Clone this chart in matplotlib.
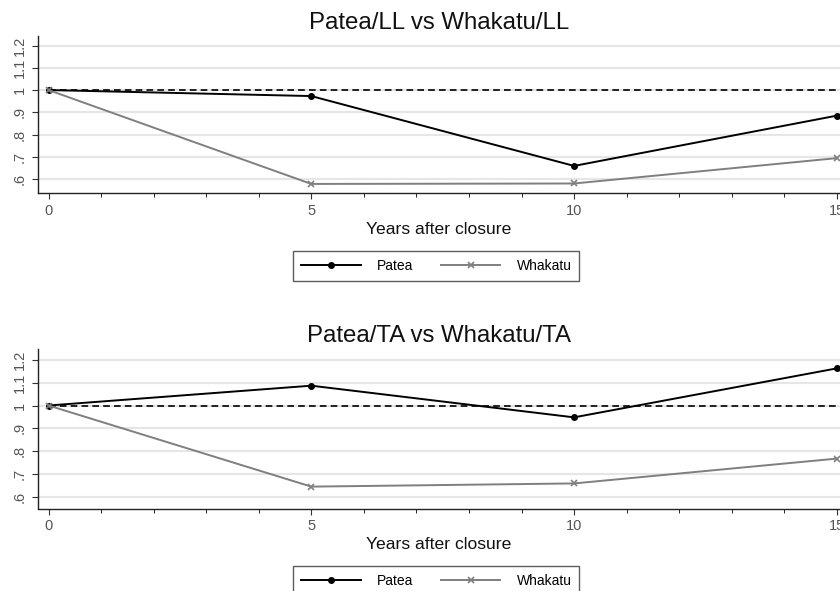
import matplotlib
matplotlib.use("Agg")
import matplotlib.pyplot as plt

years = [0, 5, 10, 15]
patea_ll = [1.0, 0.973, 0.659, 0.885]
whakatu_ll = [1.0, 0.578, 0.580, 0.694]
patea_ta = [1.0, 1.087, 0.948, 1.163]
whakatu_ta = [1.0, 0.644, 0.658, 0.767]

y_ticks = [0.6, 0.7, 0.8, 0.9, 1.0, 1.1, 1.2]
y_labels = ['.6', '.7', '.8', '.9', '1', '1.1', '1.2']
x_ticks = [0, 5, 10, 15]

titles = ["Patea/LL vs Whakatu/LL", "Patea/TA vs Whakatu/TA"]

plt.rcParams['font.family'] = ['Liberation Sans', 'DejaVu Sans']

fig = plt.figure(figsize=(8.4, 5.91), dpi=100)
W, H = 840, 591

# axes boxes in pixels: left, top, right, bottom
boxes = [(38, 36, 840, 193.5), (38, 349, 840, 508.5)]
ylims = [(0.535, 1.243), (0.548, 1.248)]
panels = [(patea_ll, whakatu_ll), (patea_ta, whakatu_ta)]

for i in range(2):
    l, t, r, b = boxes[i]
    ax = fig.add_axes([l / W, 1 - b / H, (r - l) / W, (b - t) / H])
    p, w = panels[i]
    ax.plot([years[0], years[-1]], [1, 1], color='black', linestyle=(0, (4, 2.5)), lw=1.2, zorder=2)
    ax.plot(years, p, color='black', lw=1.4, marker='o', markersize=4, label='Patea', zorder=3)
    ax.plot(years, w, color='#7f7f7f', lw=1.4, marker='x', markersize=4, markeredgewidth=1.2,
            label='Whakatu', zorder=3)

    ax.set_xlim(-0.2, 15.06)
    ax.set_ylim(*ylims[i])
    ax.set_xticks(x_ticks)
    ax.set_xticks(range(0, 16), minor=True)
    ax.set_yticks(y_ticks)
    ax.set_yticklabels(y_labels, rotation=90, va='center')
    ax.tick_params(axis='both', labelsize=10.5, labelcolor='#555555', color='#333333')
    ax.tick_params(axis='x', which='major', length=4.5, pad=3)
    ax.tick_params(axis='x', which='minor', length=3)
    ax.tick_params(axis='y', length=4.3, pad=4)
    ax.grid(axis='y', color='#e6e6e6', lw=1.5)
    ax.set_axisbelow(True)
    for s in ['top', 'right']:
        ax.spines[s].set_visible(False)
    for s in ['left', 'bottom']:
        ax.spines[s].set_color('#222222')
        ax.spines[s].set_linewidth(1.0)

    ax.set_title(titles[i], fontsize=17.3, color='#111111', pad=5)
    ax.set_xlabel('Years after closure', fontsize=12.6, color='#111111', labelpad=3)
    ax.legend(loc='center', bbox_to_anchor=(0.4965, -72.5 / (b - t)), ncol=2, fontsize=10,
              frameon=True, fancybox=False, edgecolor='#333333', handlelength=4.3,
              columnspacing=2.0, borderpad=0.55, handletextpad=1.15)

fig.savefig('out.png', dpi=100)
